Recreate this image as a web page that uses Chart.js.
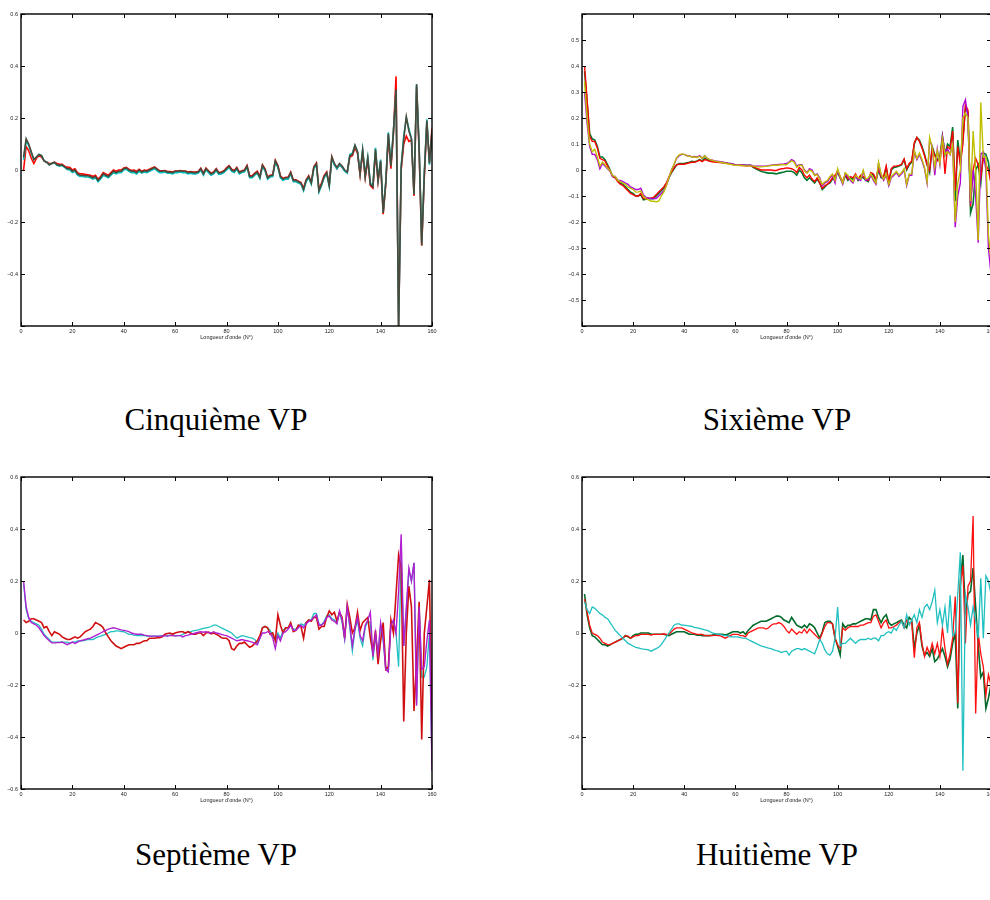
<!DOCTYPE html>
<html lang="fr">
<head>
<meta charset="UTF-8">
<title>Vecteurs propres 5 à 8</title>
<script src="https://cdn.jsdelivr.net/npm/chart.js@4.4.1/dist/chart.umd.min.js"></script>
<style>
  html, body { margin: 0; padding: 0; width: 990px; height: 900px; overflow: hidden; background: #fff; }
  .panel { position: absolute; }
  .caption { position: absolute; width: 300px; text-align: center; font-family: "Liberation Serif", "DejaVu Serif", serif; font-size: 31px; line-height: 31px; color: #000; }
</style>
</head>
<body>
<div class="panel" style="left:0;top:0"><canvas id="vp5" width="440" height="342"></canvas></div>
<div class="panel" style="left:550px;top:0"><canvas id="vp6" width="460" height="342"></canvas></div>
<div class="panel" style="left:0;top:463px"><canvas id="vp7" width="440" height="342"></canvas></div>
<div class="panel" style="left:550px;top:463px"><canvas id="vp8" width="460" height="342"></canvas></div>

<div class="caption" style="left:66px;top:404px">Cinquième VP</div>
<div class="caption" style="left:627px;top:404px">Sixième VP</div>
<div class="caption" style="left:66px;top:839px">Septième VP</div>
<div class="caption" style="left:627px;top:839px">Huitième VP</div>

<script>
// indice de longueur d'onde
const wavelength = [
  1,2,3,4,5,6,7,8,9,10, 11,12,13,14,15,16,17,18,19,20,
  21,22,23,24,25,26,27,28,29,30, 31,32,33,34,35,36,37,38,39,40,
  41,42,43,44,45,46,47,48,49,50, 51,52,53,54,55,56,57,58,59,60,
  61,62,63,64,65,66,67,68,69,70, 71,72,73,74,75,76,77,78,79,80,
  81,82,83,84,85,86,87,88,89,90, 91,92,93,94,95,96,97,98,99,100,
  101,102,103,104,105,106,107,108,109,110, 111,112,113,114,115,116,117,118,119,120,
  121,122,123,124,125,126,127,128,129,130, 131,132,133,134,135,136,137,138,139,140,
  141,142,143,144,145,146,147,148,149,150, 151,152,153,154,155,156,157,158,159,160
];
const xTicks = [0, 20, 40, 60, 80, 100, 120, 140, 160];
const yTicks5 = [-0.6, -0.4, -0.2, 0, 0.2, 0.4, 0.6];
const yLabels5 = [-0.4, -0.2, 0, 0.2, 0.4, 0.6];
const yTicks6 = [-0.6, -0.5, -0.4, -0.3, -0.2, -0.1, 0, 0.1, 0.2, 0.3, 0.4, 0.5, 0.6];
const yLabels6 = [-0.5, -0.4, -0.3, -0.2, -0.1, 0, 0.1, 0.2, 0.3, 0.4, 0.5];
const yLabels7 = [-0.6, -0.4, -0.2, 0, 0.2, 0.4, 0.6];
const yLabels8 = [-0.4, -0.2, 0, 0.2, 0.4, 0.6];

// Cinquième VP
const vp5Red = [
  0.0, 0.09, 0.075, 0.045, 0.025, 0.045, 0.055, 0.05, 0.035, 0.03,
  0.025, 0.025, 0.03, 0.025, 0.022, 0.022, 0.015, 0.01, 0.01, 0.0,
  0.005, -0.01, -0.015, -0.015, -0.017, -0.018, -0.02, -0.025, -0.02, -0.035,
  -0.025, -0.01, -0.015, -0.02, -0.01, 0.0, -0.005, 0.0, 0.0, 0.008,
  0.01, 0.003, -0.002, 0.0, -0.005, 0.003, -0.005, 0.0, -0.002, 0.003,
  0.008, 0.012, 0.004, -0.003, -0.003, -0.002, -0.006, -0.006, -0.008, -0.004,
  -0.004, -0.002, -0.004, -0.004, -0.008, -0.006, -0.008, -0.008, -0.006, 0.007,
  -0.012, 0.007, -0.003, -0.012, -0.008, 0.005, -0.01, -0.008, -0.003, 0.008,
  0.017, 0.003, -0.002, 0.01, -0.008, -0.003, 0.0, 0.018, -0.022, -0.022,
  -0.012, -0.005, -0.025, 0.02, 0.004, -0.027, -0.02, -0.018, 0.037, 0.017,
  -0.022, -0.033, -0.028, -0.028, -0.008, -0.038, -0.038, -0.043, -0.048, -0.07,
  -0.038, -0.022, -0.048, 0.012, 0.027, -0.075, -0.05, -0.022, -0.008, -0.055,
  0.05, 0.02, 0.005, 0.02, 0.01, -0.003, -0.01, 0.05, 0.055, 0.085,
  0.065, -0.02, 0.07, -0.03, 0.04, -0.06, -0.07, 0.07, -0.045, 0.03,
  -0.17, -0.055, 0.13, 0.005, 0.14, 0.36, -0.6, 0.0, 0.1, 0.13,
  0.11, 0.115, -0.1, 0.32, 0.07, -0.29, -0.03, 0.18, 0.03, 0.16
];
const vp5Cyan = [
  0.04, 0.11, 0.095, 0.065, 0.04, 0.05, 0.06, 0.055, 0.035, 0.03,
  0.02, 0.025, 0.028, 0.018, 0.015, 0.017, 0.01, 0.002, 0.0, -0.01,
  -0.005, -0.02, -0.025, -0.025, -0.027, -0.027, -0.03, -0.035, -0.03, -0.045,
  -0.035, -0.02, -0.025, -0.03, -0.02, -0.01, -0.015, -0.01, -0.01, 0.0,
  0.003, -0.005, -0.01, -0.01, -0.015, -0.005, -0.012, -0.008, -0.01, -0.005,
  0.0, 0.005, -0.003, -0.01, -0.01, -0.008, -0.012, -0.012, -0.015, -0.01,
  -0.01, -0.008, -0.01, -0.01, -0.015, -0.012, -0.015, -0.015, -0.012, 0.0,
  -0.02, 0.0, -0.01, -0.02, -0.015, -0.002, -0.017, -0.015, -0.01, 0.0,
  0.01, -0.005, -0.01, 0.003, -0.015, -0.01, -0.007, 0.01, -0.03, -0.03,
  -0.02, -0.013, -0.033, 0.013, -0.003, -0.035, -0.027, -0.025, 0.03, 0.01,
  -0.03, -0.04, -0.035, -0.035, -0.015, -0.045, -0.045, -0.05, -0.055, -0.08,
  -0.045, -0.03, -0.055, 0.005, 0.02, -0.085, -0.06, -0.03, -0.015, -0.065,
  0.045, 0.02, 0.005, 0.02, 0.01, -0.005, -0.012, 0.06, 0.065, 0.095,
  0.07, -0.01, 0.08, -0.02, 0.05, -0.05, -0.06, 0.085, -0.035, 0.04,
  -0.16, -0.045, 0.145, 0.02, 0.155, 0.3, -0.6, 0.015, 0.13, 0.2,
  0.16, 0.12, -0.09, 0.33, 0.09, -0.28, -0.01, 0.195, 0.02, 0.14
];
const vp5Gray = [
  0.05, 0.12, 0.10, 0.07, 0.04, 0.05, 0.06, 0.055, 0.035, 0.03,
  0.02, 0.025, 0.03, 0.02, 0.018, 0.02, 0.012, 0.005, 0.005, -0.005,
  0.0, -0.015, -0.02, -0.02, -0.022, -0.022, -0.025, -0.03, -0.025, -0.04,
  -0.03, -0.015, -0.02, -0.025, -0.015, -0.005, -0.01, -0.005, -0.005, 0.005,
  0.008, 0.0, -0.005, -0.005, -0.01, 0.0, -0.008, -0.003, -0.005, 0.0,
  0.005, 0.01, 0.002, -0.005, -0.005, -0.003, -0.008, -0.008, -0.01, -0.005,
  -0.005, -0.003, -0.005, -0.005, -0.01, -0.008, -0.01, -0.01, -0.008, 0.005,
  -0.015, 0.005, -0.005, -0.015, -0.01, 0.003, -0.012, -0.01, -0.005, 0.005,
  0.015, 0.0, -0.005, 0.008, -0.01, -0.005, -0.002, 0.015, -0.025, -0.025,
  -0.015, -0.008, -0.028, 0.018, 0.002, -0.03, -0.022, -0.02, 0.035, 0.015,
  -0.025, -0.035, -0.03, -0.03, -0.01, -0.04, -0.04, -0.045, -0.05, -0.075,
  -0.04, -0.025, -0.05, 0.01, 0.025, -0.08, -0.055, -0.025, -0.01, -0.06,
  0.05, 0.025, 0.01, 0.025, 0.015, 0.0, -0.008, 0.055, 0.06, 0.095,
  0.07, -0.015, 0.075, -0.025, 0.045, -0.055, -0.065, 0.08, -0.04, 0.035,
  -0.165, -0.05, 0.14, 0.015, 0.15, 0.31, -0.6, 0.01, 0.12, 0.205,
  0.15, 0.12, -0.095, 0.33, 0.08, -0.29, -0.02, 0.19, 0.025, 0.15
];

// Sixième VP
const vp6Green = [
  0.38, 0.26, 0.14, 0.12, 0.115, 0.09, 0.05, 0.05, 0.04, 0.02,
  0.0, -0.025, -0.03, -0.04, -0.05, -0.055, -0.065, -0.075, -0.085, -0.09,
  -0.1, -0.1, -0.095, -0.115, -0.112, -0.11, -0.11, -0.11, -0.1, -0.09,
  -0.08, -0.07, -0.055, -0.03, -0.01, 0.005, 0.02, 0.025, 0.025, 0.025,
  0.028, 0.03, 0.033, 0.032, 0.035, 0.04, 0.035, 0.045, 0.04, 0.035,
  0.034, 0.033, 0.031, 0.03, 0.029, 0.028, 0.026, 0.025, 0.022, 0.02,
  0.02, 0.02, 0.019, 0.018, 0.018, 0.018, 0.01, 0.005, 0.0, -0.005,
  -0.008, -0.01, -0.012, -0.012, -0.013, -0.015, -0.012, -0.01, -0.008, -0.005,
  -0.005, -0.005, -0.01, -0.02, 0.0, -0.01, -0.03, -0.04, -0.03, -0.04,
  -0.05, -0.035, -0.05, -0.075, -0.065, -0.055, -0.05, -0.035, -0.025, -0.01,
  -0.03, -0.05, -0.02, -0.04, -0.03, -0.035, -0.02, -0.04, -0.025, -0.03,
  -0.04, -0.045, -0.015, -0.02, -0.04, 0.0, -0.03, -0.03, 0.01, -0.05,
  0.0, 0.01, 0.012, 0.015, 0.02, 0.04, 0.0, 0.02, 0.03, 0.1,
  0.125, 0.115, 0.09, 0.06, 0.02, -0.01, 0.09, 0.06, 0.04, 0.05,
  0.13, 0.06, 0.1, 0.09, 0.165, -0.12, 0.115, 0.03, 0.12, 0.24,
  0.22, -0.165, -0.13, 0.0, 0.02, -0.05, 0.065, 0.06, 0.03, -0.05
];
const vp6Red = [
  0.4, 0.27, 0.13, 0.11, 0.11, 0.085, 0.045, 0.04, 0.035, 0.015,
  -0.005, -0.025, -0.03, -0.045, -0.055, -0.06, -0.07, -0.08, -0.09, -0.095,
  -0.1, -0.1, -0.09, -0.11, -0.11, -0.108, -0.108, -0.105, -0.095, -0.085,
  -0.075, -0.065, -0.05, -0.028, -0.008, 0.008, 0.02, 0.022, 0.022, 0.022,
  0.025, 0.028, 0.03, 0.03, 0.033, 0.038, 0.032, 0.04, 0.037, 0.033,
  0.032, 0.031, 0.03, 0.029, 0.028, 0.027, 0.025, 0.024, 0.021, 0.019,
  0.018, 0.017, 0.017, 0.016, 0.016, 0.017, 0.012, 0.008, 0.004, 0.0,
  0.0, 0.0, 0.0, 0.0, -0.002, -0.002, 0.002, 0.005, 0.006, 0.008,
  0.007, 0.005, 0.0, -0.01, 0.01, 0.0, -0.02, -0.03, -0.02, -0.035,
  -0.045, -0.03, -0.05, -0.07, -0.06, -0.055, -0.045, -0.03, -0.02, -0.005,
  -0.025, -0.045, -0.015, -0.035, -0.025, -0.03, -0.015, -0.035, -0.02, -0.025,
  -0.035, -0.04, -0.01, -0.015, -0.035, 0.005, -0.025, -0.025, 0.015, -0.045,
  0.005, 0.015, 0.015, 0.018, 0.022, 0.042, 0.005, 0.025, 0.035, 0.105,
  0.125, 0.11, 0.085, 0.055, 0.02, 0.0, 0.085, 0.055, 0.035, 0.045,
  0.12, -0.015, 0.09, 0.08, 0.15, -0.08, 0.09, 0.02, 0.1, 0.25,
  0.23, -0.14, 0.0, 0.045, 0.02, -0.03, 0.05, 0.02, 0.0, -0.05
];
const vp6Magenta = [
  0.3, 0.18, 0.09, 0.06, 0.06, 0.04, 0.005, 0.025, 0.015, 0.005,
  -0.005, -0.025, -0.025, -0.04, -0.04, -0.045, -0.05, -0.055, -0.065, -0.07,
  -0.075, -0.075, -0.07, -0.095, -0.105, -0.108, -0.11, -0.11, -0.11, -0.1,
  -0.09, -0.08, -0.06, -0.03, 0.0, 0.02, 0.045, 0.055, 0.06, 0.06,
  0.055, 0.055, 0.05, 0.052, 0.05, 0.055, 0.045, 0.055, 0.045, 0.04,
  0.038, 0.035, 0.034, 0.032, 0.03, 0.028, 0.026, 0.025, 0.023, 0.02,
  0.02, 0.02, 0.019, 0.018, 0.018, 0.018, 0.016, 0.015, 0.015, 0.015,
  0.015, 0.015, 0.017, 0.018, 0.019, 0.02, 0.021, 0.022, 0.023, 0.025,
  0.03, 0.04, 0.035, 0.015, 0.02, 0.02, 0.0, -0.01, 0.005, 0.0,
  -0.02, -0.015, -0.03, -0.06, -0.05, -0.045, -0.03, -0.02, -0.05, 0.0,
  -0.03, -0.055, -0.015, -0.025, -0.04, -0.05, -0.025, -0.035, -0.04, -0.005,
  -0.04, -0.035, -0.02, -0.04, -0.055, 0.025, -0.02, -0.04, -0.02, -0.06,
  -0.03, -0.02, -0.01, -0.025, -0.015, 0.0, -0.06, -0.02, -0.02, 0.07,
  0.04, 0.06, 0.035, 0.005, -0.05, 0.115, 0.09, -0.02, 0.08, 0.02,
  0.13, 0.07, 0.08, 0.06, 0.1, -0.22, -0.1, -0.05, 0.245, 0.27,
  0.2, -0.13, 0.0, -0.1, -0.28, 0.06, 0.07, 0.0, -0.3, -0.4
];
const vp6Yellow = [
  0.34, 0.2, 0.1, 0.07, 0.08, 0.05, 0.015, 0.03, 0.02, 0.008,
  -0.003, -0.022, -0.025, -0.04, -0.045, -0.05, -0.055, -0.065, -0.07, -0.075,
  -0.085, -0.085, -0.08, -0.1, -0.11, -0.115, -0.12, -0.12, -0.122, -0.12,
  -0.1, -0.085, -0.06, -0.03, 0.0, 0.022, 0.048, 0.058, 0.062, 0.06,
  0.055, 0.053, 0.05, 0.05, 0.048, 0.053, 0.045, 0.055, 0.045, 0.04,
  0.037, 0.034, 0.032, 0.03, 0.028, 0.026, 0.024, 0.022, 0.02, 0.018,
  0.018, 0.018, 0.017, 0.016, 0.016, 0.016, 0.015, 0.013, 0.012, 0.012,
  0.013, 0.014, 0.016, 0.017, 0.018, 0.018, 0.019, 0.02, 0.02, 0.02,
  0.028, 0.035, 0.03, 0.01, 0.018, 0.018, -0.003, -0.012, 0.0, -0.005,
  -0.022, -0.018, -0.035, -0.055, -0.045, -0.04, -0.025, -0.015, -0.04, 0.005,
  -0.025, -0.05, -0.01, -0.02, -0.035, -0.045, -0.02, -0.03, -0.035, 0.0,
  -0.035, -0.03, -0.015, -0.035, -0.05, 0.03, -0.015, -0.035, -0.015, -0.055,
  -0.025, -0.015, -0.005, -0.02, -0.01, 0.005, -0.055, -0.015, -0.015, 0.075,
  0.045, 0.065, 0.04, 0.01, -0.045, 0.125, 0.085, 0.01, 0.075, 0.025,
  0.12, 0.06, 0.07, 0.06, 0.1, -0.2, -0.05, 0.0, 0.2, 0.22,
  0.2, -0.12, 0.15, 0.0, -0.27, 0.26, 0.05, 0.05, -0.25, -0.35
];

// Septième VP
const vp7Red = [
  0.05, 0.04, 0.045, 0.055, 0.055, 0.05, 0.045, 0.04, 0.02, 0.025,
  0.005, -0.01, 0.005, 0.0, -0.005, -0.015, -0.02, -0.025, -0.025, -0.02,
  -0.015, -0.02, -0.015, -0.005, 0.005, 0.01, 0.015, 0.025, 0.04, 0.035,
  0.03, 0.02, 0.0, -0.015, -0.03, -0.04, -0.05, -0.055, -0.06, -0.055,
  -0.05, -0.045, -0.045, -0.045, -0.04, -0.04, -0.035, -0.03, -0.03, -0.02,
  -0.02, -0.02, -0.018, -0.018, -0.015, -0.005, -0.002, 0.0, -0.005, 0.0,
  0.003, 0.005, 0.005, 0.0, 0.005, 0.0, -0.005, -0.005, 0.0, 0.0,
  -0.01, 0.0, 0.003, -0.003, 0.0, -0.005, -0.01, -0.018, -0.02, -0.02,
  -0.03, -0.06, -0.065, -0.05, -0.04, -0.04, -0.035, -0.045, -0.055, -0.05,
  -0.04, -0.03, -0.01, 0.02, 0.025, 0.02, -0.005, 0.0, -0.03, 0.07,
  0.03, 0.0, 0.02, 0.02, 0.04, 0.005, 0.01, 0.03, 0.025, -0.02,
  0.04, 0.05, 0.045, 0.06, 0.06, 0.015, 0.025, 0.025, 0.06, 0.085,
  0.07, 0.08, 0.045, 0.08, 0.06, -0.02, 0.11, 0.06, 0.0, 0.02,
  0.08, 0.01, 0.04, 0.05, 0.06, -0.02, -0.075, 0.01, -0.12, -0.03,
  0.04, -0.14, -0.13, 0.05, 0.0, 0.15, 0.3, 0.25, -0.34, 0.0,
  0.18, 0.1, -0.3, -0.1, 0.12, -0.41, 0.0, 0.1, 0.205, -0.35
];
const vp7Cyan = [
  0.19, 0.09, 0.055, 0.045, 0.04, 0.035, 0.03, 0.015, -0.005, -0.015,
  -0.025, -0.035, -0.035, -0.035, -0.035, -0.035, -0.035, -0.035, -0.04, -0.035,
  -0.035, -0.03, -0.03, -0.03, -0.028, -0.025, -0.025, -0.025, -0.02, -0.015,
  -0.012, -0.008, -0.005, 0.0, 0.005, 0.005, 0.008, 0.008, 0.005, 0.005,
  0.0, -0.005, -0.005, -0.008, -0.01, -0.01, -0.01, -0.01, -0.012, -0.012,
  -0.012, -0.012, -0.012, -0.012, -0.01, -0.01, -0.01, -0.008, -0.008, -0.01,
  -0.01, -0.01, -0.005, 0.0, 0.003, 0.005, 0.008, 0.01, 0.012, 0.015,
  0.018, 0.02, 0.022, 0.025, 0.03, 0.03, 0.025, 0.02, 0.015, 0.01,
  0.005, 0.0, -0.01, -0.02, -0.015, -0.01, -0.012, -0.015, -0.018, -0.02,
  -0.025, -0.04, -0.02, 0.02, 0.025, 0.02, 0.01, -0.01, -0.03, 0.0,
  -0.02, 0.01, 0.02, 0.02, 0.03, 0.015, 0.015, 0.025, 0.035, 0.03,
  0.04, 0.05, 0.05, 0.075, 0.075, 0.035, 0.03, 0.045, 0.065, 0.07,
  0.055, 0.05, 0.04, 0.08, 0.04, -0.025, 0.105, 0.02, -0.07, 0.01,
  0.05, -0.02, -0.05, 0.02, 0.045, 0.04, -0.105, -0.01, -0.09, 0.03,
  -0.03, -0.14, -0.14, 0.04, 0.04, 0.0, -0.13, 0.3, -0.05, 0.08,
  0.24, 0.2, 0.27, -0.27, 0.1, -0.17, -0.17, -0.13, 0.0, -0.5
];
const vp7Magenta = [
  0.2, 0.1, 0.06, 0.04, 0.035, 0.03, 0.02, 0.005, -0.01, -0.02,
  -0.03, -0.038, -0.038, -0.037, -0.037, -0.035, -0.04, -0.045, -0.04, -0.035,
  -0.04, -0.035, -0.03, -0.028, -0.025, -0.022, -0.02, -0.015, -0.01, -0.005,
  0.0, 0.005, 0.01, 0.015, 0.018, 0.02, 0.018, 0.015, 0.012, 0.01,
  0.008, 0.005, 0.0, -0.003, -0.005, -0.005, -0.005, -0.008, -0.01, -0.012,
  -0.012, -0.012, -0.013, -0.012, -0.012, -0.01, -0.012, -0.01, -0.01, -0.012,
  -0.01, -0.01, -0.015, -0.01, -0.008, -0.005, -0.003, 0.0, 0.003, 0.005,
  0.003, 0.005, 0.002, 0.0, 0.005, 0.0, -0.002, -0.005, -0.008, -0.01,
  -0.015, -0.02, -0.025, -0.03, -0.028, -0.025, -0.028, -0.03, -0.032, -0.035,
  -0.04, -0.045, -0.02, 0.0, 0.0, 0.005, 0.0, -0.02, -0.06, -0.01,
  -0.03, 0.0, 0.005, 0.015, 0.03, 0.01, 0.01, 0.02, 0.03, 0.02,
  0.035, 0.045, 0.05, 0.06, 0.07, 0.03, 0.03, 0.04, 0.06, 0.065,
  0.05, 0.045, 0.035, 0.085, 0.05, -0.02, 0.1, 0.03, -0.05, 0.02,
  0.06, -0.01, -0.03, 0.03, 0.05, 0.08, -0.09, 0.0, -0.08, 0.04,
  -0.02, -0.14, -0.15, 0.03, 0.05, 0.0, 0.16, 0.38, -0.05, 0.1,
  0.25, 0.2, 0.27, -0.28, 0.1, -0.14, -0.13, -0.03, 0.05, -0.53
];

// Huitième VP
const vp8Green = [
  0.15, 0.07, 0.02, -0.01, -0.015, -0.025, -0.035, -0.045, -0.045, -0.05,
  -0.045, -0.04, -0.035, -0.03, -0.025, -0.02, -0.01, -0.015, -0.02, -0.01,
  -0.005, -0.005, 0.0, 0.0, 0.0, 0.0, -0.005, -0.005, -0.005, -0.005,
  -0.005, -0.005, -0.008, -0.01, -0.005, 0.0, 0.005, 0.005, 0.005, 0.005,
  0.0, -0.005, -0.005, -0.005, -0.008, -0.008, -0.01, -0.01, -0.01, -0.01,
  -0.008, -0.005, -0.005, -0.005, -0.005, -0.008, -0.005, 0.0, 0.005, 0.005,
  0.005, 0.0, 0.005, -0.005, 0.01, 0.02, 0.03, 0.035, 0.04, 0.045,
  0.045, 0.045, 0.05, 0.055, 0.06, 0.065, 0.065, 0.06, 0.05, 0.045,
  0.04, 0.06, 0.045, 0.03, 0.025, 0.02, 0.03, 0.02, 0.035, 0.03,
  0.02, 0.0, -0.02, 0.005, 0.04, 0.045, 0.045, 0.035, -0.02, -0.05,
  -0.085, 0.035, 0.02, 0.03, 0.03, 0.035, 0.035, 0.04, 0.045, 0.05,
  0.055, 0.055, 0.05, 0.09, 0.09, 0.06, 0.04, 0.06, 0.07, 0.04,
  0.03, 0.035, 0.04, 0.045, 0.05, 0.03, 0.02, 0.06, 0.05, -0.06,
  0.0, 0.03, -0.05, -0.085, -0.075, -0.09, -0.06, -0.11, -0.1, -0.08,
  -0.06, -0.09, -0.13, -0.1, -0.04, 0.0, -0.29, 0.2, 0.3, 0.07,
  0.15, 0.16, 0.25, 0.1, -0.05, -0.17, -0.15, -0.29, -0.25, -0.2
];
const vp8Red = [
  0.13, 0.08, 0.03, 0.0, -0.005, -0.01, -0.02, -0.035, -0.04, -0.045,
  -0.045, -0.04, -0.035, -0.03, -0.025, -0.02, -0.01, -0.012, -0.02, -0.015,
  -0.01, -0.01, -0.005, -0.005, -0.005, -0.005, -0.008, -0.005, -0.005, -0.005,
  -0.005, -0.003, -0.005, -0.005, 0.005, 0.015, 0.02, 0.02, 0.02, 0.015,
  0.01, 0.005, 0.0, -0.002, -0.005, -0.005, -0.005, -0.01, -0.01, -0.01,
  -0.01, -0.008, -0.01, -0.01, -0.015, -0.02, -0.015, -0.01, -0.005, -0.005,
  -0.005, -0.01, -0.01, -0.015, 0.0, 0.005, 0.01, 0.015, 0.02, 0.02,
  0.02, 0.015, 0.02, 0.03, 0.035, 0.035, 0.04, 0.035, 0.025, 0.01,
  0.0, 0.015, 0.005, -0.005, 0.005, 0.0, 0.015, 0.0, 0.015, 0.005,
  -0.005, -0.015, -0.025, 0.0, 0.025, 0.04, 0.04, 0.035, -0.02, -0.045,
  -0.06, 0.02, 0.01, 0.02, 0.025, 0.025, 0.025, 0.025, 0.03, 0.03,
  0.035, 0.04, 0.04, 0.065, 0.07, 0.045, 0.02, 0.04, 0.05, 0.02,
  0.02, 0.025, 0.03, 0.04, 0.045, 0.02, 0.05, 0.04, 0.04, -0.095,
  0.02, 0.04, -0.04, -0.09, -0.055, -0.08, -0.04, -0.08, -0.04, -0.09,
  0.02, -0.06, -0.12, -0.08, -0.02, 0.14, -0.27, 0.18, 0.26, -0.04,
  0.18, 0.2, 0.45, -0.31, 0.0, -0.08, -0.13, -0.24, -0.16, -0.2
];
const vp8Cyan = [
  0.12, 0.09, 0.075, 0.1, 0.095, 0.085, 0.075, 0.07, 0.06, 0.055,
  0.04, 0.025, 0.01, 0.0, -0.01, -0.02, -0.03, -0.04, -0.045, -0.05,
  -0.055, -0.057, -0.06, -0.062, -0.063, -0.065, -0.07, -0.065, -0.06, -0.055,
  -0.045, -0.03, -0.015, 0.0, 0.015, 0.03, 0.035, 0.035, 0.03, 0.03,
  0.028, 0.027, 0.025, 0.022, 0.02, 0.018, 0.015, 0.012, 0.01, 0.005,
  0.0, -0.002, -0.005, -0.005, -0.008, -0.01, -0.01, -0.015, -0.015, -0.015,
  -0.015, -0.018, -0.02, -0.02, -0.025, -0.03, -0.035, -0.04, -0.045, -0.05,
  -0.052, -0.055, -0.058, -0.06, -0.065, -0.068, -0.07, -0.075, -0.072, -0.07,
  -0.085, -0.07, -0.065, -0.06, -0.06, -0.065, -0.06, -0.065, -0.07, -0.075,
  -0.08, -0.055, -0.025, -0.04, -0.065, -0.08, -0.085, -0.07, -0.02, 0.1,
  -0.05, -0.04, -0.04, -0.03, -0.02, -0.03, -0.04, -0.03, -0.025, -0.025,
  -0.025, -0.02, -0.025, -0.02, -0.02, -0.03, -0.01, -0.01, 0.0, 0.005,
  0.0, 0.02, 0.01, 0.03, 0.045, 0.02, 0.07, 0.03, 0.05, 0.07,
  0.04, 0.09, 0.06, 0.1, 0.11, 0.09, 0.12, 0.165, 0.04, 0.09,
  0.03, 0.1, 0.0, 0.145, -0.01, 0.0, 0.15, 0.31, -0.53, 0.15,
  0.1, 0.03, 0.1, 0.05, -0.02, 0.21, -0.02, 0.22, 0.2, 0.15
];

// cadre et graduations vers l'intérieur, comme matlab
const matlabBox = {
  id: 'matlabBox',
  afterDraw(chart) {
    const ctx = chart.ctx;
    const a = chart.chartArea;
    const xs = chart.scales.x, ys = chart.scales.y;
    ctx.save();
    ctx.strokeStyle = '#000';
    ctx.lineWidth = 1;
    ctx.beginPath();
    xs.ticks.forEach(t => {
      const px = Math.round(xs.getPixelForValue(t.value)) + 0.5;
      ctx.moveTo(px, a.bottom); ctx.lineTo(px, a.bottom - 4);
      ctx.moveTo(px, a.top); ctx.lineTo(px, a.top + 4);
    });
    chart.options.plugins.matlabBox.yMarks.forEach(v => {
      const py = Math.round(ys.getPixelForValue(v)) + 0.5;
      ctx.moveTo(a.left, py); ctx.lineTo(a.left + 4, py);
      ctx.moveTo(a.right, py); ctx.lineTo(a.right - 4, py);
    });
    ctx.stroke();
    ctx.lineWidth = 1.4;
    ctx.strokeRect(a.left, a.top, a.right - a.left, a.bottom - a.top);
    ctx.restore();
  }
};

function fmt(v) {
  if (v === 0) return '0';
  return v < 0 ? '\u2212' + (-v) : String(v);
}

function line(data, color, width) {
  return { data: data, borderColor: color, borderWidth: width || 1.3, pointRadius: 0, tension: 0, fill: false };
}

function makePanel(id, datasets, yLabels, yMarks, axisWidth, padRight) {
  const tickFont = { family: 'Liberation Sans, Arial, sans-serif', size: 5.5 };
  new Chart(document.getElementById(id), {
    type: 'line',
    data: { labels: wavelength, datasets: datasets },
    options: {
      responsive: false,
      animation: false,
      events: [],
      layout: { padding: { top: 14, left: 0, right: padRight, bottom: 0 } },
      plugins: { legend: { display: false }, tooltip: { enabled: false }, matlabBox: { yMarks: yMarks } },
      scales: {
        x: {
          type: 'linear', min: 0, max: 160,
          grid: { display: false, drawTicks: false },
          border: { display: false },
          afterBuildTicks: s => { s.ticks = xTicks.map(v => ({ value: v })); },
          afterFit: s => { s.height = 16; },
          ticks: { font: tickFont, color: '#222', padding: 2.5, maxRotation: 0, callback: v => fmt(v) },
          title: { display: true, text: "Longueur d'onde (N°)", font: tickFont, color: '#222', padding: { top: 0, bottom: 1 } }
        },
        y: {
          type: 'linear', min: -0.6, max: 0.6,
          grid: { display: false, drawTicks: false },
          border: { display: false },
          afterBuildTicks: s => { s.ticks = yLabels.map(v => ({ value: v })); },
          afterFit: s => { s.width = axisWidth; },
          ticks: { font: tickFont, color: '#222', padding: 3, callback: v => fmt(v) }
        }
      }
    },
    plugins: [matlabBox]
  });
}

// premier de la liste = dessiné au-dessus
makePanel('vp5', [
  line(vp5Gray, '#4a4a3a', 1.6),
  line(vp5Cyan, '#00bfbf', 1.6),
  line(vp5Red, '#ff0000', 1.6)
], yLabels5, yTicks5, 21, 8);

makePanel('vp6', [
  line(vp6Yellow, '#bfbf00', 1.4),
  line(vp6Magenta, '#b000d8', 1.4),
  line(vp6Red, '#ff0000', 1.4),
  line(vp6Green, '#007a30', 1.6)
], yLabels6, yTicks6, 32, 19);

makePanel('vp7', [
  line(vp7Magenta, '#b020d0', 1.4),
  line(vp7Red, '#d01010', 1.6),
  line(vp7Cyan, '#20c0c0', 1.3)
], yLabels7, yTicks5, 21, 8);

makePanel('vp8', [
  line(vp8Cyan, '#20c0c0', 1.3),
  line(vp8Red, '#ff1010', 1.3),
  line(vp8Green, '#006a2a', 1.6)
], yLabels8, yTicks5, 32, 19);
</script>
</body>
</html>
